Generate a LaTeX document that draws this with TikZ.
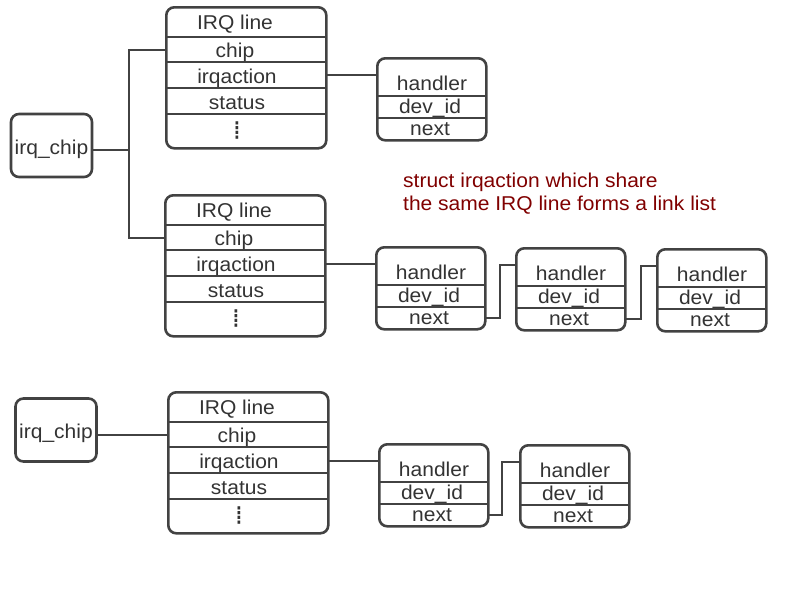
\documentclass[tikz,border=0pt]{standalone}
\usepackage{fontspec}
\setmainfont{Liberation Sans}[FakeStretch=1.05]
\newfontfamily\symfont{DejaVu Sans}
\usetikzlibrary{calc}
\definecolor{linegray}{HTML}{424242}
\definecolor{textgray}{HTML}{333333}
\definecolor{notered}{HTML}{800000}

\begin{document}
\begin{tikzpicture}[
    x=1pt, y=-1pt,
    font=\fontsize{20}{24}\selectfont,
    every node/.style={text=textgray, inner sep=0pt},
    box/.style={draw=linegray, line width=2.6pt, rounded corners=8pt},
    chipbox/.style={box, minimum width=81pt, minimum height=63pt, text height=21pt, text depth=4pt},
    descbox/.style={box, anchor=north west, minimum width=160pt, minimum height=141pt},
    actbox/.style={box, anchor=north west, minimum width=109pt, minimum height=82pt},
    field/.style={anchor=base},
    moredots/.style={font=\symfont\fontsize{26}{26}\selectfont},
    wire/.style={draw=linegray, line width=2.6pt},
    note/.style={text=notered, anchor=base west}
]
\useasboundingbox (0,0) rectangle (800,600);

% irq_chip
\node[chipbox] (chip1) at (51.5,145.5) {irq\_chip};
\node[chipbox] (chip2) at (56,430) {irq\_chip};

% irq descriptors
\foreach \n/\x/\y in {1/165/6, 2/164/194, 3/167/391} {
  \begin{scope}[shift={(\x,\y)}]
    \node[descbox] (desc\n) at (0,0) {};
    \draw[wire] (0,31) -- (160,31) (0,56) -- (160,56) (0,82) -- (160,82) (0,108) -- (160,108);
    \node[field] (title\n) at (70,23.5) {IRQ line};
    \node[field] (chipf\n) at (70,51.5) {chip};
    \node[field] (actf\n) at (72,77) {irqaction};
    \node[field] (stat\n) at (72,103) {status};
    \node[moredots] (dots\n) at (72,125) {⁞};
    \coordinate (chipin\n) at (0,44);
    \coordinate (actout\n) at (160,69);
  \end{scope}
}

% irqaction
\foreach \n/\x/\y in {1/376/57, 2a/375/246, 2b/515/247, 2c/656/248, 3a/378/443, 3b/519/444} {
  \begin{scope}[shift={(\x,\y)}]
    \node[actbox] (act\n) at (0,0) {};
    \draw[wire] (0,39) -- (109,39) (0,61) -- (109,61);
    \node[field] (hdl\n) at (56,33) {handler};
    \node[field] (dev\n) at (54,56) {dev\_id};
    \node[field] (next\n) at (54,78) {next};
    \coordinate (in\n) at (0,18);
    \coordinate (out\n) at (109,72);
  \end{scope}
}

% links
\coordinate (bus) at (129,150);
\draw[wire] (chip1.east |- bus) -- (bus);
\draw[wire] (chipin1) -| (bus) |- (chipin2);
\draw[wire] (chip2.east |- chipin3) -- (chipin3);

\draw[wire] (in1 -| actout1) -- (in1);
\draw[wire] (in2a -| actout2) -- (in2a);
\draw[wire] (out2a) -- ++(16,0) |- (in2b);
\draw[wire] (out2b) -- ++(17,0) |- (in2c);
\draw[wire] (in3a -| actout3) -- (in3a);
\draw[wire] (out3a) -- ++(15,0) |- (in3b);

\node[note] (note1) at (403,187) {struct irqaction which share};
\node[note] (note2) at ($(note1.base west)+(0,23)$) {the same IRQ line forms a link list};
\end{tikzpicture}
\end{document}
